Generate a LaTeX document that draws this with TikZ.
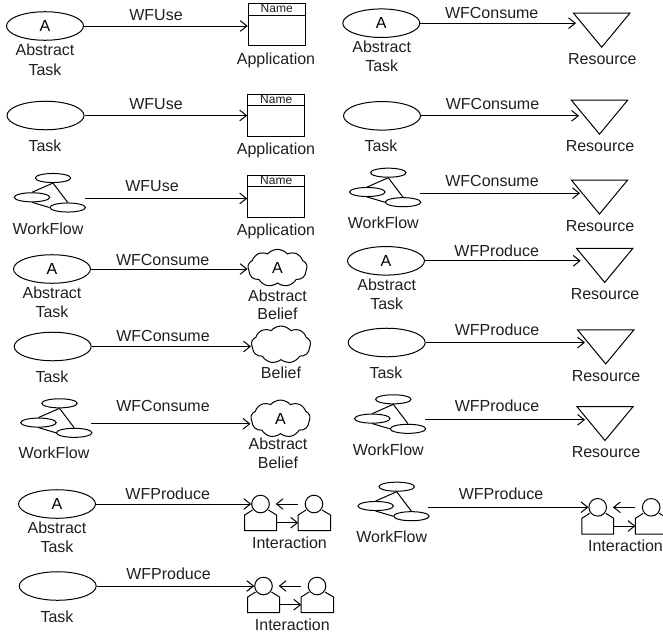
\documentclass[tikz,border=0pt]{standalone}
\usepackage{fontspec}
\setmainfont{Liberation Sans}
\usetikzlibrary{arrows.meta,shapes.geometric,shapes.symbols,calc}
\newcount\lbn
\tikzset{
 pxl/.style={line width=0.75pt,draw=black},
 taskshape/.style={pxl,ellipse,inner sep=0pt,minimum width=57.75pt,minimum height=21.4pt,font=\fontsize{12}{12}\selectfont},
 wfshape/.style={pxl,ellipse,inner sep=0pt,minimum width=26.6pt,minimum height=6.8pt},
 appshape/.style={pxl,rectangle,inner sep=0pt,minimum width=42.75pt,minimum height=31.5pt},
 cloudshape/.style={pxl,cloud,cloud puffs=9,cloud puff arc=100,aspect=1.6,inner sep=0pt,minimum width=44.5pt,minimum height=28pt,font=\fontsize{12}{12}\selectfont},
 resbox/.style={inner sep=0pt,minimum width=41.8pt,minimum height=25.1pt},
 headshape/.style={pxl,circle,inner sep=0pt,minimum size=13.2pt},
 lbl/.style={inner sep=0pt,text height=8.6pt,text depth=0pt,font=\fontsize{12}{12}\selectfont,text=black!88},
 namelbl/.style={inner sep=0pt,font=\fontsize{9}{9}\selectfont,text=black!88},
 conn/.style={pxl,-{Straight Barb[length=5pt,width=8pt,line width=0.75pt]}},
 plain/.style={pxl}
}
\newcommand{\lb}[3]{\global\advance\lbn by 1 \node[lbl] (lbl\the\lbn) at (#1,#2) {#3};}
\newcommand{\tk}[4]{\node[taskshape] (#1) at (#2,#3) {#4};}
\newcommand{\wf}[3]{%
 \node[wfshape] (#1T) at (#2,#3) {};
 \node[wfshape] (#1L) at ($(#2,#3)+(-21,19.3)$) {};
 \node[wfshape] (#1R) at ($(#2,#3)+(14.7,29.5)$) {};
 \draw[plain] (#1T.south) -- (#1L.north);
 \draw[plain] (#1T.south) -- (#1R.north);
 \draw[plain] (#1L.south) -- (#1R.west);
 \coordinate (#1) at ($(#2,#3)+(31.5,20.5)$);}
\newcommand{\app}[3]{%
 \node[appshape] (#1) at (#2,#3) {};
 \draw[plain] ([yshift=-9.15pt]#1.north west) -- ([yshift=-9.15pt]#1.north east);
 \node[namelbl] (#1n) at ([yshift=-4.4pt]#1.north) {Name};}
\newcommand{\blf}[4]{\node[cloudshape] (#1) at (#2,#3) {#4};}
\newcommand{\res}[3]{%
 \node[resbox] (#1) at (#2,#3) {};
 \draw[plain,line join=miter] (#1.north west) -- (#1.north east) -- (#1.south) -- cycle;}
\newcommand{\inter}[3]{%
 \node[headshape] (#1L) at (#2,#3) {};
 \node[headshape] (#1R) at ($(#2,#3)+(53.5,0)$) {};
 \draw[plain] ($(#2,#3)+(-8,6)$) -- ($(#2,#3)+(-15.8,11)$) -- ($(#2,#3)+(-15.8,26.7)$) -- ($(#2,#3)+(16,26.7)$) -- ($(#2,#3)+(16,11)$) -- ($(#2,#3)+(8,6)$);
 \draw[plain] ($(#2,#3)+(45.5,6)$) -- ($(#2,#3)+(37.7,11)$) -- ($(#2,#3)+(37.7,26.7)$) -- ($(#2,#3)+(70,26.7)$) -- ($(#2,#3)+(70,11)$) -- ($(#2,#3)+(61.5,6)$);
 \coordinate (#1a) at ($(#2,#3)+(37.7,0)$);
 \coordinate (#1b) at ($(#2,#3)+(15.2,0)$);
 \coordinate (#1c) at ($(#2,#3)+(16,18.7)$);
 \coordinate (#1d) at ($(#2,#3)+(37.7,18.7)$);
 \draw[conn] (#1a) -- (#1b);
 \draw[conn] (#1c) -- (#1d);}
\begin{document}
\begin{tikzpicture}[x=0.75pt,y=-0.75pt]
\clip (0,0) rectangle (663,632);
% left column
\tk{a}{45}{26}{A} \lb{45}{50}{Abstract} \lb{45}{69.5}{Task}
\app{ab}{276.7}{24.5} \lb{276}{58.5}{Application} \lb{156}{14.5}{WFUse}
\draw[conn] (a.east) -- (a.east -| ab.west);

\tk{b}{45.5}{115.5}{} \lb{45}{145.5}{Task}
\app{bb}{276.2}{115} \lb{276}{148.5}{Application} \lb{156}{103.5}{WFUse}
\draw[conn] (b.east) -- (b.east -| bb.west);

\wf{c}{53}{178} \lb{48}{228.5}{WorkFlow}
\app{cb}{276.2}{196} \lb{276}{229.5}{Application} \lb{152}{186}{WFUse}
\draw[conn] (c) -- (c -| cb.west);

\tk{d}{52}{269}{A} \lb{52}{292.5}{Abstract} \lb{52}{312}{Task}
\blf{db}{277.5}{268}{A} \lb{277.5}{295.7}{Abstract} \lb{277.5}{314}{Belief} \lb{162.7}{259.5}{WFConsume}
\draw[conn] (d.east) -- (d.east -| db.west);

\tk{e}{52.7}{346.5}{} \lb{52}{376.7}{Task}
\blf{eb}{281}{344.7}{} \lb{281}{372.7}{Belief} \lb{163}{335.7}{WFConsume}
\draw[conn] (e.east) -- (e.east -| eb.west);

\wf{f}{59.5}{403.3} \lb{54}{453}{WorkFlow}
\blf{fb}{280.5}{418.7}{A} \lb{278}{443.3}{Abstract} \lb{278}{462.5}{Belief} \lb{163}{406}{WFConsume}
\draw[conn] (f) -- (f -| fb.west);

\tk{g}{57}{504}{A} \lb{57}{527.7}{Abstract} \lb{57}{547}{Task}
\inter{gb}{260.5}{504} \lb{289.5}{542.5}{Interaction} \lb{167.7}{494}{WFProduce}
\draw[conn] (g.east) -- (g.east -| gbL.west);

\tk{h}{57.7}{586}{} \lb{57}{616.7}{Task}
\inter{hb}{263.5}{586} \lb{292.3}{624.3}{Interaction} \lb{168.5}{573.7}{WFProduce}
\draw[conn] (h.east) -- (h.east -| hbL.west);

% right column
\tk{i}{381.3}{23.2}{A} \lb{381.7}{46.7}{Abstract} \lb{381.7}{66}{Task}
\res{ib}{601.7}{30.2} \coordinate (it) at (576,0); \lb{602.3}{58.7}{Resource} \lb{491.7}{12.7}{WFConsume}
\draw[conn] (i.east) -- (i.east -| it);

\tk{j}{382}{115.8}{} \lb{381}{146}{Task}
\res{jb}{599.5}{117.2} \coordinate (jt) at (579,0); \lb{600}{146}{Resource} \lb{492.5}{103.7}{WFConsume}
\draw[conn] (j.east) -- (j.east -| jt);

\wf{k}{388.3}{172.7} \lb{383.3}{222.7}{WorkFlow}
\res{kb}{599.5}{197} \coordinate (kt) at (580,0); \lb{600}{225.7}{Resource} \lb{492}{180.7}{WFConsume}
\draw[conn] (k) -- (k -| kt);

\tk{l}{386}{260.8}{A} \lb{386.7}{285}{Abstract} \lb{386.7}{303.3}{Task}
\res{lb}{604.7}{265.4} \coordinate (lt) at (580.7,0); \lb{605}{293.3}{Resource} \lb{496.7}{250.7}{WFProduce}
\draw[conn] (l.east) -- (l.east -| lt);

\tk{m}{386.7}{342.5}{} \lb{386}{372.3}{Task}
\res{mb}{605.7}{346.9} \coordinate (mt) at (585,0); \lb{606}{375.3}{Resource} \lb{497}{329.3}{WFProduce}
\draw[conn] (m.east) -- (m.east -| mt);

\wf{n}{393.3}{399.3} \lb{388.3}{449.3}{WorkFlow}
\res{nb}{605}{423.5} \coordinate (nt) at (585,0); \lb{606}{451.3}{Resource} \lb{497}{406}{WFProduce}
\draw[conn] (n) -- (n -| nt);

\wf{o}{396.7}{486.7} \lb{391.7}{536.7}{WorkFlow}
\inter{ob}{597.7}{507.3} \lb{625.5}{545.7}{Interaction} \lb{501}{494}{WFProduce}
\draw[conn] (o) -- (o -| obL.west);
\end{tikzpicture}
\end{document}
